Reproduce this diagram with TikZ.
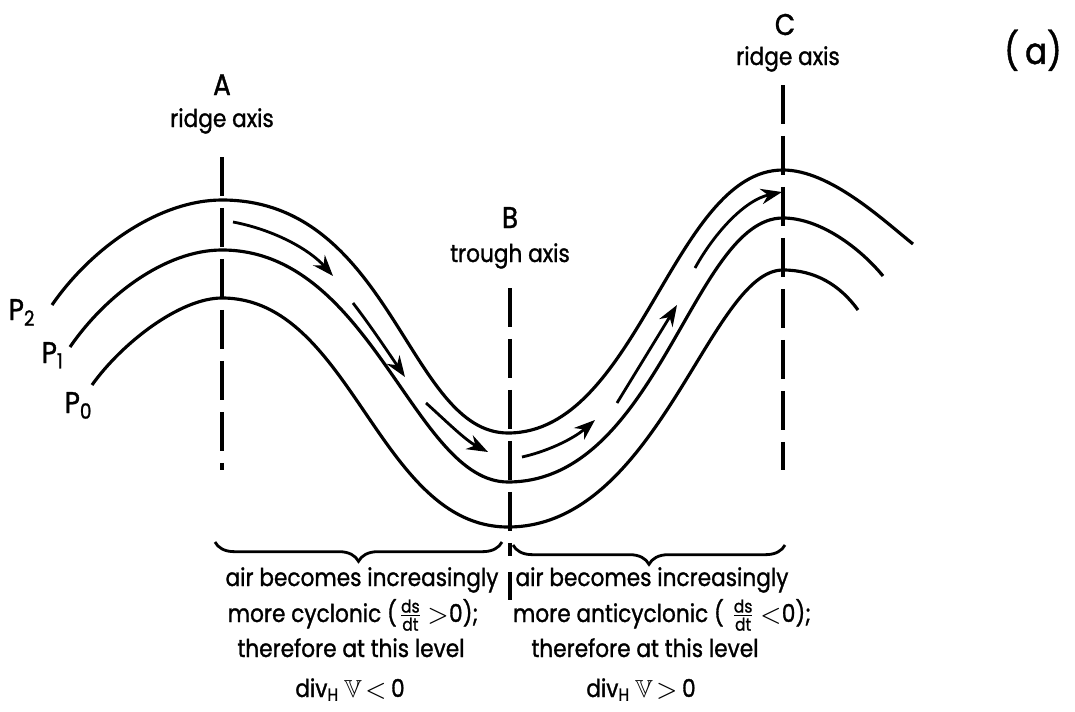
\documentclass[tikz,border=0pt]{standalone}
\usepackage{amsmath,amssymb}
\usepackage{fontspec}
\setmainfont{Poppins}[FakeStretch=0.88,FakeBold=1.2]
\usepackage{tikz}
\usetikzlibrary{arrows.meta,decorations.pathreplacing}

\begin{document}
\begin{tikzpicture}[x=0.01cm,y=-0.01cm,>={Stealth[length=6pt,width=4.4pt]},
  isobar/.style={line width=0.9pt},
  axisline/.style={line width=0.9pt,dash pattern=on 11pt off 3.5pt},
  flowarrow/.style={line width=0.8pt,->},
  lbl/.style={font=\fontsize{7}{8}\selectfont,anchor=base,inner sep=0pt},
  biglbl/.style={lbl,font=\fontsize{8.5}{9}\selectfont},
  curly/.style={line width=0.8pt,decorate,decoration={brace,mirror,amplitude=5.5pt}}]
\useasboundingbox (0,0) rectangle (1075,712);

% axes
\draw[axisline] (222,157) -- (222,470);
\draw[axisline] (510,288) -- (510,556);
\draw[axisline] (783,85) -- (783,470);
\draw[isobar] (510,572) -- (510,600);

% isobars P2, P1, P0
\draw[isobar] (52,305) .. controls (92,247) and (160,200) .. (222,200)
  .. controls (392,200) and (408,433) .. (508,433)
  .. controls (638,433) and (673,170) .. (783,170)
  .. controls (830,170) and (883,220) .. (913,244);
\draw[isobar] (70,347) .. controls (105,296) and (165,250) .. (222,250)
  .. controls (372,250) and (414,482) .. (508,482)
  .. controls (658,482) and (693,218) .. (783,218)
  .. controls (820,218) and (860,248) .. (883,276);
\draw[isobar] (92,385) .. controls (122,343) and (180,298) .. (222,298)
  .. controls (352,298) and (378,527) .. (508,527)
  .. controls (658,527) and (710,270) .. (783,270)
  .. controls (815,270) and (840,285) .. (858,310);

% flow of the air
\draw[flowarrow] (233,222) .. controls (275,230) and (310,250) .. (333,276);
\draw[flowarrow] (353,303) .. controls (370,325) and (388,352) .. (405,377);
\draw[flowarrow] (426,403) .. controls (445,420) and (465,440) .. (488,452);
\draw[flowarrow] (522,457) .. controls (545,452) and (572,440) .. (595,420);
\draw[flowarrow] (617,403) -- (677,305);
\draw[flowarrow] (695,268) .. controls (715,232) and (745,200) .. (782,192);

% braces
\draw[curly] (215,542) -- (502,542);
\draw[curly] (513,545) -- (785,545);

% labels
\node[biglbl] (A) at (222,95) {A};
\node[lbl] (ridgeA) at (222,127) {ridge axis};
\node[biglbl] (B) at (510,228) {B};
\node[lbl] (troughB) at (510,262) {trough axis};
\node[biglbl] (C) at (785,35) {C};
\node[lbl] (ridgeC) at (788,65) {ridge axis};
\node[lbl,font=\fontsize{10.5}{12}\selectfont] (panel) at (1033,64) {(\,a)};

\node[biglbl,anchor=base west] (P2) at (8,320) {P$_{\text{2}}$};
\node[biglbl,anchor=base west] (P1) at (41,363) {P$_{\text{1}}$};
\node[biglbl,anchor=base west] (P0) at (64,413) {P$_{\text{0}}$};

\node[lbl] (cyc1) at (362,586) {air becomes increasingly};
\node[lbl] (cyc2) at (353,622) {more cyclonic ($\frac{\text{ds}}{\text{dt}}\!>$0);};
\node[lbl] (cyc3) at (351,657) {therefore at this level};
\node[lbl] (cyc4) at (350,697) {div$_{\text{H}}$\,$\mathbb{V}\!<$\,0};

\node[lbl] (anti1) at (652,586) {air becomes increasingly};
\node[lbl] (anti2) at (662,622) {more anticyclonic ( $\frac{\text{ds}}{\text{dt}}\!<$0);};
\node[lbl] (anti3) at (645,657) {therefore at this level};
\node[lbl] (anti4) at (641,697) {div$_{\text{H}}$\,$\mathbb{V}\!>$\,0};
\end{tikzpicture}
\end{document}
